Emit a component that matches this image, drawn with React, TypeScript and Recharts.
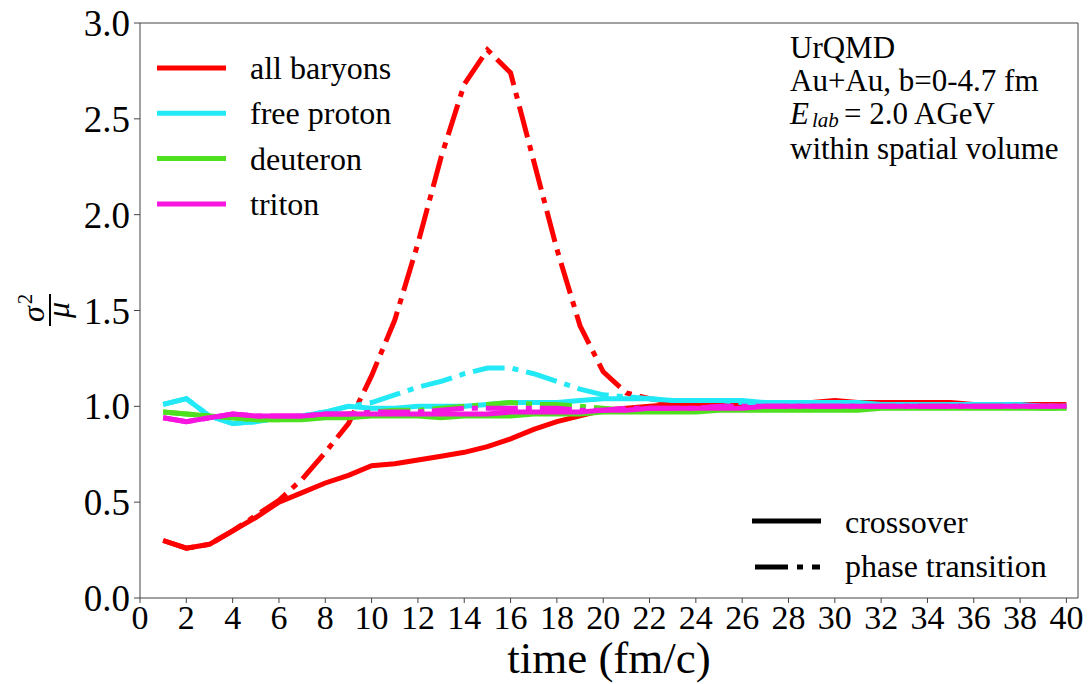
import { LineChart, Line, XAxis, YAxis, ReferenceLine } from 'recharts';

const times = [1, 2, 3, 4, 5, 6, 7, 8, 9, 10, 11, 12, 13, 14, 15, 16, 17, 18, 19, 20,
  21, 22, 23, 24, 25, 26, 27, 28, 29, 30, 31, 32, 33, 34, 35, 36, 37, 38, 39, 40];

// crossover (solid lines)
const baryonsCross = [0.30, 0.26, 0.28, 0.35, 0.42, 0.50, 0.55, 0.60, 0.64, 0.69, 0.70, 0.72, 0.74, 0.76, 0.79, 0.83, 0.88, 0.92, 0.95, 0.98,
  0.99, 1.00, 1.01, 1.01, 1.01, 1.01, 1.02, 1.02, 1.02, 1.03, 1.02, 1.02, 1.02, 1.02, 1.02, 1.01, 1.01, 1.01, 1.01, 1.01];
const protonCross = [1.01, 1.04, 0.95, 0.91, 0.92, 0.94, 0.95, 0.97, 1.00, 0.99, 0.99, 1.00, 1.00, 1.00, 1.01, 1.02, 1.02, 1.02, 1.03, 1.04,
  1.04, 1.04, 1.03, 1.03, 1.03, 1.03, 1.02, 1.02, 1.02, 1.02, 1.02, 1.01, 1.01, 1.01, 1.01, 1.01, 1.01, 1.01, 1.00, 1.00];
const deuteronCross = [0.97, 0.96, 0.95, 0.94, 0.93, 0.93, 0.93, 0.94, 0.94, 0.95, 0.95, 0.95, 0.94, 0.95, 0.95, 0.95, 0.96, 0.96, 0.96, 0.97,
  0.97, 0.97, 0.97, 0.97, 0.98, 0.98, 0.98, 0.98, 0.98, 0.98, 0.98, 0.99, 0.99, 0.99, 0.99, 0.99, 0.99, 0.99, 0.99, 0.99];
const tritonCross = [0.94, 0.92, 0.94, 0.96, 0.95, 0.95, 0.95, 0.96, 0.96, 0.96, 0.96, 0.96, 0.96, 0.96, 0.96, 0.97, 0.97, 0.97, 0.97, 0.98,
  0.98, 0.99, 0.99, 0.99, 0.99, 0.99, 1.00, 1.00, 1.00, 1.00, 1.00, 1.00, 1.00, 1.00, 1.00, 1.00, 1.00, 1.00, 1.00, 1.00];

// phase transition (dash-dot lines)
const baryonsPT = [0.30, 0.26, 0.28, 0.35, 0.43, 0.51, 0.62, 0.76, 0.91, 1.16, 1.45, 1.85, 2.30, 2.68, 2.86, 2.74, 2.28, 1.82, 1.42, 1.18,
  1.07, 1.04, 1.02, 1.02, 1.01, 1.01, 1.01, 1.01, 1.01, 1.01, 1.01, 1.01, 1.01, 1.01, 1.01, 1.01, 1.01, 1.01, 1.00, 1.00];
const protonPT = [1.01, 1.04, 0.95, 0.91, 0.92, 0.94, 0.95, 0.97, 1.00, 1.02, 1.06, 1.10, 1.13, 1.17, 1.20, 1.20, 1.17, 1.13, 1.09, 1.06,
  1.05, 1.04, 1.03, 1.03, 1.03, 1.02, 1.02, 1.02, 1.02, 1.01, 1.01, 1.01, 1.01, 1.01, 1.01, 1.01, 1.01, 1.00, 1.00, 1.00];
const deuteronPT = [0.97, 0.96, 0.95, 0.94, 0.93, 0.93, 0.94, 0.95, 0.96, 0.97, 0.98, 0.98, 0.99, 1.00, 1.01, 1.02, 1.01, 1.01, 1.00, 0.99,
  0.98, 0.98, 0.98, 0.98, 0.99, 0.99, 0.99, 0.99, 0.99, 0.99, 0.99, 1.00, 1.00, 1.00, 1.00, 1.00, 1.00, 1.00, 0.99, 0.99];
const tritonPT = [0.94, 0.92, 0.94, 0.96, 0.95, 0.95, 0.95, 0.96, 0.96, 0.97, 0.97, 0.97, 0.98, 0.99, 0.99, 0.99, 0.99, 0.99, 0.98, 0.98,
  0.99, 0.99, 0.99, 0.99, 1.00, 1.00, 1.00, 1.00, 1.00, 1.00, 1.00, 1.00, 1.00, 1.00, 1.00, 1.00, 1.00, 1.00, 1.00, 1.00];

const xTicks = [0, 2, 4, 6, 8, 10, 12, 14, 16, 18, 20, 22, 24, 26, 28, 30, 32, 34, 36, 38, 40];
const yTicks = [0, 0.5, 1.0, 1.5, 2.0, 2.5, 3.0];

const species = [
  { name: 'all baryons', color: '#ff0000', cross: baryonsCross, pt: baryonsPT },
  { name: 'free proton', color: '#22e9f5', cross: protonCross, pt: protonPT },
  { name: 'deuteron', color: '#4fe11f', cross: deuteronCross, pt: deuteronPT },
  { name: 'triton', color: '#f716e0', cross: tritonCross, pt: tritonPT },
];

const rows = times.map((t, i) => {
  const r: Record<string, number> = { t };
  species.forEach((s, k) => {
    r['c' + k] = s.cross[i];
    r['p' + k] = s.pt[i];
  });
  return r;
});

const FONT = '"Liberation Serif", "Times New Roman", serif';
const DASHDOT = '32 8 6 8';
const AXIS = '#444';

function YLabel() {
  return (
    <g transform="translate(50,310) rotate(-90)" fontFamily={FONT} fill="#000">
      <text x={-4} y={-6} fontSize={32} fontStyle="italic" textAnchor="middle">σ</text>
      <text x={11} y={-18} fontSize={21} textAnchor="middle">2</text>
      <line x1={-16} x2={16} y1={0} y2={0} stroke="#000" strokeWidth={2} />
      <text x={0} y={19} fontSize={32} fontStyle="italic" textAnchor="middle">μ</text>
    </g>
  );
}

function XLabel() {
  return (
    <text x={609} y={673} textAnchor="middle" fontFamily={FONT} fontSize={45} fill="#000">
      time (fm/c)
    </text>
  );
}

export default function App() {
  return (
    <div style={{ position: 'absolute', left: 0, top: 0, width: 1091, height: 684, background: '#fff' }}>
      <LineChart width={1091} height={684} data={rows} margin={{ top: 23, right: 13, left: 0, bottom: 0 }}>
        <XAxis
          dataKey="t"
          type="number"
          domain={[0, 40.5]}
          ticks={xTicks}
          interval={0}
          allowDataOverflow
          height={86}
          stroke={AXIS}
          tickSize={5}
          tickMargin={2}
          tick={{ fill: '#000', fontSize: 34, fontFamily: FONT }}
          label={<XLabel />}
        />
        <YAxis
          type="number"
          domain={[0, 3]}
          ticks={yTicks}
          interval={0}
          width={140}
          stroke={AXIS}
          tickSize={6}
          tickMargin={4}
          tickFormatter={(v: number) => v.toFixed(1)}
          tick={{ fill: '#000', fontSize: 37, fontFamily: FONT }}
          label={<YLabel />}
        />
        <ReferenceLine y={3} stroke={AXIS} strokeWidth={1} />
        <ReferenceLine x={40.5} stroke={AXIS} strokeWidth={1} />
        {species.flatMap((s, k) => [
          <Line key={'c' + k} dataKey={'c' + k} type="linear" stroke={s.color} strokeWidth={5}
            dot={false} activeDot={false} isAnimationActive={false} />,
          <Line key={'p' + k} dataKey={'p' + k} type="linear" stroke={s.color} strokeWidth={5}
            strokeDasharray={DASHDOT} dot={false} activeDot={false} isAnimationActive={false} />,
        ])}
      </LineChart>
      <svg width={1091} height={684} style={{ position: 'absolute', left: 0, top: 0, pointerEvents: 'none' }}
        fontFamily={FONT} fill="#000">
        {species.map((s, k) => {
          const y = 68 + k * 45.3;
          return (
            <g key={s.name}>
              <line x1={157} x2={226} y1={y} y2={y} stroke={s.color} strokeWidth={5} />
              <text x={250} y={y + 11} fontSize={32}>{s.name}</text>
            </g>
          );
        })}
        <g fontSize={31}>
          <text x={790} y={58}>UrQMD</text>
          <text x={790} y={91}>Au+Au, b=0-4.7 fm</text>
          <text x={790} y={124} fontStyle="italic">E</text>
          <text x={812} y={127} fontStyle="italic" fontSize={21}>lab</text>
          <text x={844} y={124}>= 2.0 AGeV</text>
          <text x={790} y={159}>within spatial volume</text>
        </g>
        <line x1={752} x2={821} y1={521} y2={521} stroke="#000" strokeWidth={5} />
        <line x1={755} x2={820} y1={567} y2={567} stroke="#000" strokeWidth={5} strokeDasharray="33 9 6 9" />
        <text x={845} y={533} fontSize={32}>crossover</text>
        <text x={845} y={577} fontSize={32}>phase transition</text>
      </svg>
    </div>
  );
}
